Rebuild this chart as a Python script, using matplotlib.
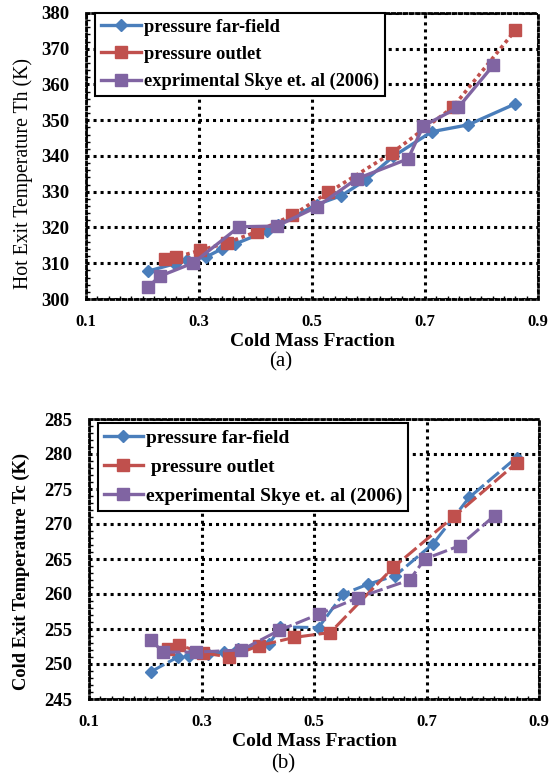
import matplotlib
matplotlib.use("Agg")
import matplotlib.pyplot as plt
from matplotlib.lines import Line2D
from matplotlib.ticker import MultipleLocator

plt.rcParams['font.family'] = ['Liberation Serif', 'DejaVu Serif']

# ---- data: hot exit temperature (a) ----
x_far = [0.210, 0.258, 0.278, 0.312, 0.340, 0.364, 0.420, 0.440, 0.508, 0.552, 0.596, 0.644, 0.712, 0.776, 0.860]
th_far = [307.8, 309.9, 310.9, 311.7, 314.0, 315.4, 319.0, 320.7, 326.4, 328.9, 333.4, 339.9, 346.8, 348.7, 354.6]
x_out = [0.240, 0.260, 0.302, 0.349, 0.402, 0.465, 0.529, 0.641, 0.749, 0.860]
th_out = [311.2, 311.7, 313.6, 315.7, 318.8, 323.4, 329.8, 340.8, 353.6, 375.2]
x_exp = [0.210, 0.231, 0.290, 0.371, 0.438, 0.508, 0.579, 0.670, 0.697, 0.759, 0.821]
th_exp = [303.4, 306.4, 310.1, 320.2, 320.4, 325.7, 333.6, 339.2, 348.4, 353.6, 365.4]

# ---- data: cold exit temperature (b) ----
tc_far = [248.9, 251.0, 251.2, 251.5, 251.7, 252.1, 252.8, 255.3, 255.2, 260.0, 261.4, 262.6, 267.2, 273.8, 279.5]
tc_out = [252.1, 252.7, 251.6, 251.0, 252.6, 253.8, 254.5, 263.8, 271.1, 278.7]
tc_exp = [253.5, 251.7, 251.7, 252.0, 254.8, 257.1, 259.5, 262.0, 265.0, 266.9, 271.2]

x_ticks = [0.1, 0.3, 0.5, 0.7, 0.9]

BLUE = '#4A7EBB'
RED = '#C0504D'
PURPLE = '#8064A2'

W, H = 559, 779
fig = plt.figure(figsize=(W / 100, H / 100), dpi=100)


def px_axes(left, top, right, bottom):
    return fig.add_axes([left / W, 1 - bottom / H, (right - left) / W, (bottom - top) / H])


def style_axes(ax, ylim, ystep, yminor):
    ax.set_xlim(0.1, 0.9)
    ax.set_ylim(*ylim)
    ax.set_xticks(x_ticks)
    ax.set_xticklabels([f"{v:.1f}" for v in x_ticks])
    ax.yaxis.set_major_locator(MultipleLocator(ystep))
    ax.yaxis.set_minor_locator(MultipleLocator(yminor))
    ax.xaxis.set_minor_locator(MultipleLocator(0.02))
    ax.tick_params(axis='x', which='major', length=0, labelsize=12, pad=11)
    ax.tick_params(axis='y', which='major', length=0, labelsize=13.5, pad=12)
    ax.tick_params(axis='y', which='minor', direction='in', length=3, width=1)
    ax.tick_params(axis='x', which='minor', direction='in', length=2, width=1)
    for lab in ax.get_xticklabels() + ax.get_yticklabels():
        lab.set_fontweight('bold')
    ax.grid(True, which='major', color='black', linestyle=(0, (1, 1.3)), linewidth=2.2)
    for sp in ax.spines.values():
        sp.set_linestyle((0, (1, 1.2)))
        sp.set_linewidth(2.0)
        sp.set_color('black')
    ax.set_axisbelow(True)


# ---- panel (a) ----
ax1 = px_axes(86, 13, 538, 299)
style_axes(ax1, (300, 380), 10, 2)
ax1.plot(x_far, th_far, color=BLUE, lw=2.4, marker='D', ms=6, zorder=3)
ax1.plot(x_out, th_out, color=RED, lw=2.6, linestyle=(0, (1, 1)), marker='s', ms=8.5, zorder=4)
ax1.plot(x_exp, th_exp, color=PURPLE, lw=2.4, marker='s', ms=8.5, zorder=5)
ax1.set_ylabel('Hot Exit Temperature Th (K)', fontsize=14.2)
ax1.yaxis.set_label_coords(-0.117, 0.44)
ax1.set_xlabel('Cold Mass Fraction', fontsize=14, fontweight='bold', labelpad=2)

h1 = [Line2D([], [], color=BLUE, lw=2.4, marker='D', ms=6),
      Line2D([], [], color=RED, lw=2.4, marker='s', ms=8.5),
      Line2D([], [], color=PURPLE, lw=2.4, marker='s', ms=8.5)]
leg1 = ax1.legend(h1, ['pressure far-field', 'pressure outlet', 'exprimental Skye et. al (2006)'],
                  loc='upper left', bbox_to_anchor=(0.02, 1.0), prop={'weight': 'bold', 'size': 13.3},
                  frameon=True, fancybox=False, edgecolor='black', framealpha=1,
                  handlelength=2.2, handletextpad=0.15, borderpad=0.3, labelspacing=0.55,
                  borderaxespad=0.0)
leg1.get_frame().set_linewidth(1.5)

fig.text(281 / W, 1 - 362 / H, '(a)', ha='center', va='center', fontsize=15)

# ---- panel (b) ----
ax2 = px_axes(89, 419, 539, 699)
style_axes(ax2, (245, 285), 5, 1)
dash = (0, (5, 1.4))
ax2.plot(x_far, tc_far, color=BLUE, lw=2.2, linestyle=dash, marker='D', ms=6, zorder=3)
ax2.plot(x_out, tc_out, color=RED, lw=2.2, linestyle=dash, marker='s', ms=8.5, zorder=4)
ax2.plot(x_exp, tc_exp, color=PURPLE, lw=2.2, linestyle=dash, marker='s', ms=8.5, zorder=5)
ax2.set_ylabel('Cold Exit Temperature Tc (K)', fontsize=13.3, fontweight='bold')
ax2.yaxis.set_label_coords(-0.131, 0.455)
ax2.set_xlabel('Cold Mass Fraction', fontsize=14, fontweight='bold', labelpad=2)

h2 = [Line2D([], [], color=BLUE, lw=2.4, marker='D', ms=6),
      Line2D([], [], color=RED, lw=2.4, marker='s', ms=8.5),
      Line2D([], [], color=PURPLE, lw=2.4, marker='s', ms=8.5)]
leg2 = ax2.legend(h2, ['pressure far-field', ' pressure outlet', 'experimental Skye et. al (2006)'],
                  loc='upper left', bbox_to_anchor=(0.02, 0.985), prop={'weight': 'bold', 'size': 14},
                  frameon=True, fancybox=False, edgecolor='black', framealpha=1,
                  handlelength=2.0, handletextpad=0.15, borderpad=0.3, labelspacing=0.6,
                  borderaxespad=0.0)
leg2.get_frame().set_linewidth(1.5)

fig.text(283 / W, 1 - 764 / H, '(b)', ha='center', va='center', fontsize=15)

fig.savefig('out.png', dpi=100)
